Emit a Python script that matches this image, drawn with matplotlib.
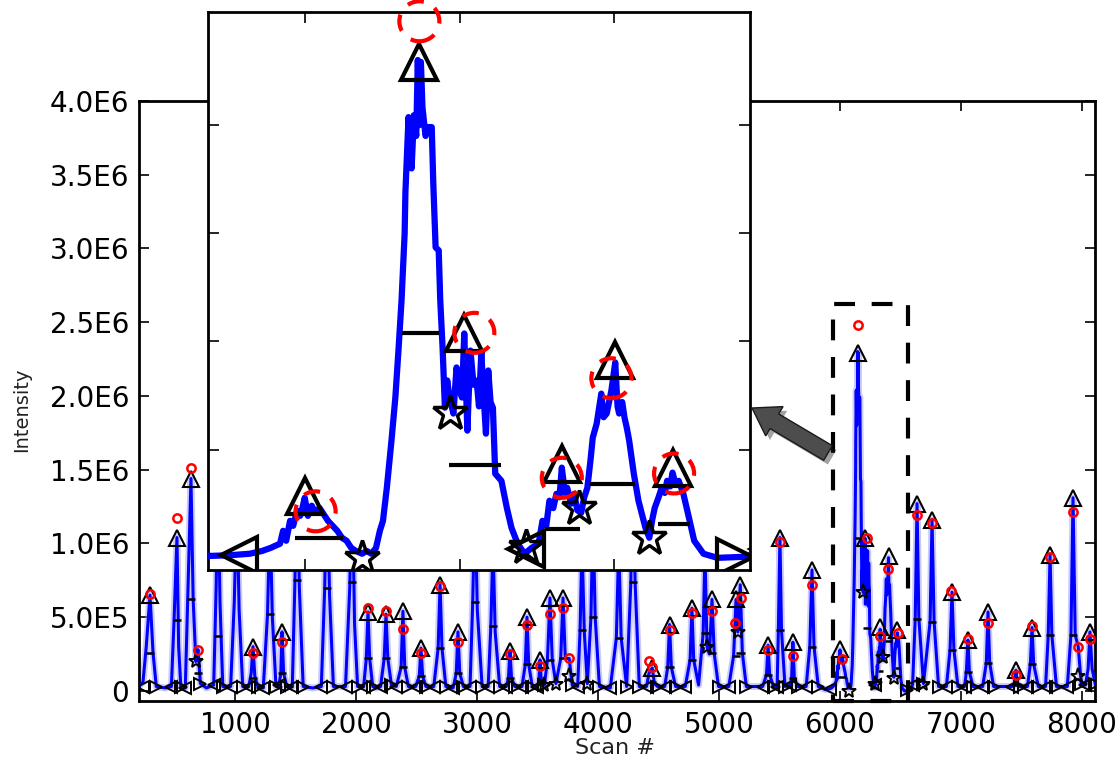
import matplotlib
matplotlib.use("Agg")
import matplotlib.pyplot as plt
import matplotlib.patheffects as pe
from matplotlib.patches import Rectangle, Circle, FancyArrow
from matplotlib.transforms import ScaledTranslation

# intensities below are in units of 1E6 counts

# chromatogram trace (scan #, intensity)
trace_scan = [
    200, 235, 262, 293, 318, 345, 420, 470, 492, 516, 530, 548,
    585, 605, 632, 650, 672, 690, 710, 760, 820, 840, 855, 872, 895,
    960, 990, 1012, 1030, 1060, 1110, 1130, 1145, 1160, 1185,
    1230, 1265, 1285, 1305, 1335, 1360, 1375, 1385, 1398, 1425,
    1470, 1492, 1509, 1528, 1560, 1640, 1710, 1738, 1757, 1778, 1810,
    1910, 1945, 1964, 1985, 2010, 2060, 2082, 2096, 2110, 2135,
    2160, 2200, 2230, 2245, 2260, 2290, 2330, 2370, 2385, 2400, 2430,
    2490, 2520, 2534, 2548, 2575, 2640, 2676, 2692, 2708, 2740,
    2800, 2826, 2840, 2855, 2885, 2940, 2962, 2981, 3000, 3040,
    3090, 3112, 3130, 3148, 3185, 3240, 3258, 3270, 3283, 3310,
    3370, 3397, 3411, 3425, 3455, 3490, 3508, 3519, 3530, 3555,
    3580, 3601, 3620, 3650, 3690, 3709, 3728, 3760, 3785,
    3830, 3850, 3866, 3885, 3910, 3940, 3957, 3975, 4010,
    4100, 4150, 4170, 4190, 4235, 4270, 4288, 4305, 4340,
    4400, 4420, 4447, 4465, 4490, 4550, 4575, 4590, 4605, 4640,
    4720, 4760, 4775, 4790, 4830, 4868, 4883, 4900, 4920, 4941, 4960, 4995,
    5080, 5120, 5140, 5155, 5175, 5192, 5225, 5360, 5392, 5405, 5418, 5450,
    5480, 5490, 5503, 5516, 5545, 5590, 5600, 5610, 5622, 5650,
    5720, 5750, 5768, 5785, 5820,
    5879, 5903, 5929, 5945, 5956, 5962, 5968, 5972, 5976, 5981, 5985, 5990,
    5994, 5997, 6000, 6004, 6009, 6014, 6019, 6024, 6030, 6036, 6042, 6048,
    6054, 6060, 6066, 6074, 6080, 6086, 6092, 6097, 6101, 6106, 6112, 6117,
    6121, 6125, 6129, 6130, 6134, 6138, 6141, 6144, 6146, 6148, 6150, 6152,
    6156, 6160, 6164, 6166, 6169, 6173, 6175, 6178, 6181, 6184, 6187, 6192,
    6196, 6200, 6203, 6206, 6210, 6214, 6218, 6222, 6225, 6228, 6231, 6234,
    6237, 6240, 6243, 6246, 6254, 6261, 6267, 6275, 6284, 6293, 6302, 6307,
    6312, 6316, 6321, 6325, 6329, 6332, 6336, 6339, 6344, 6348, 6352, 6357,
    6361, 6365, 6369, 6372, 6377, 6383, 6386, 6390, 6393, 6396, 6401, 6404,
    6406, 6410, 6413, 6416, 6419, 6425, 6431, 6440, 6445, 6449, 6452, 6457,
    6461, 6465, 6468, 6472, 6475, 6479, 6483, 6489, 6495, 6503, 6515, 6533, 6569,
    6600, 6622, 6637, 6652, 6690, 6745, 6761, 6778, 6815,
    6880, 6910, 6926, 6942, 6975, 7030, 7045, 7058, 7070, 7100,
    7180, 7210, 7224, 7238, 7270, 7420, 7445, 7455, 7466, 7490,
    7550, 7574, 7588, 7602, 7640, 7700, 7722, 7737, 7752, 7790,
    7880, 7910, 7927, 7945, 7970, 7995, 8030, 8052, 8067, 8085, 8110,
]
trace_int = [
    0.03, 0.06, 0.30, 0.65, 0.26, 0.03, 0.02, 0.03, 0.48, 1.04, 0.30, 0.03,
    0.02, 0.62, 1.44, 0.62, 0.20, 0.28, 0.05, 0.02, 0.04, 0.70, 1.45, 0.60, 0.03,
    0.03, 0.60, 1.30, 0.55, 0.03, 0.03, 0.12, 0.30, 0.10, 0.03,
    0.02, 0.52, 1.20, 0.50, 0.03, 0.04, 0.12, 0.40, 0.12, 0.03,
    0.03, 0.75, 1.60, 0.70, 0.03, 0.02, 0.03, 0.70, 1.50, 0.65, 0.03,
    0.03, 0.70, 1.50, 0.45, 0.03, 0.03, 0.22, 0.535, 0.22, 0.03,
    0.02, 0.03, 0.22, 0.52, 0.22, 0.04, 0.03, 0.16, 0.54, 0.16, 0.03,
    0.03, 0.10, 0.29, 0.10, 0.03, 0.03, 0.29, 0.72, 0.29, 0.03,
    0.02, 0.12, 0.40, 0.12, 0.03, 0.03, 0.60, 1.30, 0.55, 0.03,
    0.03, 0.44, 1.00, 0.40, 0.03, 0.03, 0.09, 0.27, 0.09, 0.03,
    0.03, 0.18, 0.50, 0.18, 0.03, 0.03, 0.05, 0.21, 0.05, 0.04,
    0.21, 0.63, 0.21, 0.05, 0.22, 0.63, 0.22, 0.22, 0.04,
    0.03, 0.41, 1.00, 0.40, 0.05, 0.50, 1.20, 0.50, 0.03,
    0.02, 0.36, 1.00, 0.36, 0.03, 0.74, 1.70, 0.74, 0.03,
    0.03, 0.12, 0.155, 0.05, 0.03, 0.03, 0.16, 0.45, 0.16, 0.03,
    0.03, 0.21, 0.56, 0.21, 0.04, 0.39, 0.95, 0.30, 0.25, 0.62, 0.25, 0.03,
    0.03, 0.24, 0.62, 0.40, 0.72, 0.26, 0.03, 0.03, 0.11, 0.31, 0.11, 0.03,
    0.03, 0.41, 1.04, 0.41, 0.03, 0.04, 0.09, 0.33, 0.09, 0.03,
    0.03, 0.30, 0.82, 0.30, 0.03,
    0.009, 0.012, 0.019, 0.032, 0.046, 0.056, 0.065, 0.125, 0.079, 0.171, 0.148, 0.218,
    0.194, 0.231, 0.278, 0.194, 0.241, 0.208, 0.231, 0.204, 0.171, 0.148, 0.125, 0.093,
    0.079, 0.046, 0.032, 0.019, 0.032, 0.019, 0.046, 0.125, 0.171, 0.324, 0.542, 0.741,
    0.958, 1.190, 1.500, 1.690, 2.037, 1.800, 2.046, 1.950, 2.301, 2.000, 2.292, 2.083,
    1.950, 1.991, 1.991, 1.731, 1.435, 1.421, 1.190, 0.972, 0.694, 0.820, 0.741, 0.667,
    0.880, 0.780, 0.741, 1.037, 0.588, 0.958, 0.800, 0.819, 0.700, 0.949, 0.750, 0.574,
    0.866, 0.720, 0.694, 0.389, 0.356, 0.231, 0.139, 0.065, 0.019, 0.046, 0.065, 0.171,
    0.150, 0.264, 0.230, 0.296, 0.280, 0.417, 0.300, 0.324, 0.250, 0.296, 0.220, 0.208,
    0.280, 0.324, 0.450, 0.556, 0.620, 0.759, 0.650, 0.667, 0.720, 0.773, 0.903, 0.700,
    0.667, 0.720, 0.648, 0.600, 0.542, 0.389, 0.264, 0.139, 0.093, 0.180, 0.231, 0.280,
    0.324, 0.300, 0.356, 0.330, 0.394, 0.340, 0.356, 0.296, 0.204, 0.079, 0.019, 0.000, 0.005,
    0.04, 0.49, 1.27, 0.49, 0.05, 0.47, 1.16, 0.47, 0.03,
    0.03, 0.28, 0.67, 0.28, 0.03, 0.03, 0.13, 0.345, 0.13, 0.03,
    0.03, 0.19, 0.535, 0.19, 0.03, 0.03, 0.04, 0.14, 0.04, 0.03,
    0.03, 0.18, 0.43, 0.18, 0.03, 0.03, 0.38, 0.92, 0.38, 0.03,
    0.03, 0.38, 1.31, 0.38, 0.30, 0.05, 0.04, 0.15, 0.40, 0.15, 0.05,
]

# detected apexes (triangles)
apex_scan = [293, 516, 632, 855, 1012, 1145, 1285, 1385, 1509, 1757, 1964,
             2096, 2245, 2385, 2534, 2692, 2840, 2981, 3130, 3270, 3411, 3519,
             3601, 3709, 3866, 3957, 4170, 4288, 4447, 4590, 4775, 4883, 4941,
             5140, 5175, 5405, 5503, 5610, 5768, 6000, 6148, 6206, 6332, 6401,
             6475, 6637, 6761, 6926, 7058, 7224, 7455, 7588, 7737, 7927, 8067]
apex_int = [0.65, 1.04, 1.44, 1.45, 1.30, 0.30, 1.20, 0.40, 1.60, 1.50, 1.50,
            0.535, 0.52, 0.54, 0.29, 0.72, 0.40, 1.30, 1.00, 0.27, 0.50, 0.21,
            0.63, 0.63, 1.00, 1.20, 1.00, 1.70, 0.155, 0.45, 0.56, 0.95, 0.62,
            0.62, 0.72, 0.31, 1.04, 0.33, 0.82, 0.285, 2.29, 1.04, 0.435, 0.915,
            0.415, 1.27, 1.16, 0.67, 0.345, 0.535, 0.14, 0.43, 0.92, 1.31, 0.40]

# fitted peak maxima (red circles)
fit_scan = [293, 516, 632, 690, 1145, 1385, 2096, 2245, 2385, 2534, 2692,
            2840, 3270, 3411, 3519, 3601, 3709, 3760, 4420, 4447, 4590, 4775,
            4941, 5130, 5178, 5405, 5503, 5610, 5768, 6014, 6148, 6219, 6332,
            6396, 6477, 6637, 6761, 6920, 7058, 7220, 7455, 7588, 7737, 7927,
            7970, 8067]
fit_int = [0.66, 1.17, 1.51, 0.28, 0.26, 0.33, 0.56, 0.54, 0.42, 0.26, 0.71,
           0.33, 0.25, 0.45, 0.17, 0.52, 0.56, 0.22, 0.20, 0.16, 0.41, 0.53,
           0.54, 0.46, 0.63, 0.28, 1.01, 0.24, 0.72, 0.215, 2.48, 1.04, 0.37,
           0.83, 0.39, 1.19, 1.14, 0.68, 0.35, 0.46, 0.11, 0.44, 0.91, 1.21,
           0.30, 0.35]

# half-height markers (centre, full width in scans, level)
half_scan = [293, 516, 632, 690, 855, 1145, 1285, 1385, 1509, 1757, 1964,
             2096, 2245, 2385, 2534, 2692, 2840, 2981, 3130, 3270, 3411, 3519,
             3601, 3709, 3866, 3957, 4170, 4288, 4447, 4590, 4775, 4883, 4941,
             5140, 5175, 5405, 5503, 5610, 5768, 6018, 6149, 6220, 6333, 6398,
             6477, 6637, 6761, 6926, 7058, 7224, 7455, 7588, 7737, 7927]
half_width = [70, 70, 70, 60, 70, 60, 70, 60, 70, 70, 70,
              70, 70, 70, 60, 70, 60, 70, 70, 60, 70, 60,
              70, 70, 70, 70, 70, 70, 60, 70, 70, 70, 70,
              70, 70, 60, 70, 60, 70, 62, 48, 67, 45, 58,
              41, 70, 70, 70, 60, 70, 60, 70, 70, 70]
half_int = [0.26, 0.48, 0.62, 0.12, 0.37, 0.09, 0.52, 0.12, 0.75, 0.70, 0.74,
            0.22, 0.22, 0.16, 0.10, 0.29, 0.12, 0.60, 0.44, 0.09, 0.18, 0.05,
            0.21, 0.22, 0.41, 0.50, 0.36, 0.74, 0.06, 0.16, 0.21, 0.39, 0.26,
            0.24, 0.26, 0.11, 0.41, 0.09, 0.30, 0.093, 1.04, 0.43, 0.134, 0.34,
            0.157, 0.49, 0.47, 0.28, 0.13, 0.19, 0.04, 0.18, 0.38, 0.38]

# peak boundaries
start_scan = [235, 470, 585, 820, 960, 1110, 1230, 1360, 1470, 1710, 1910,
              2060, 2200, 2330, 2490, 2640, 2800, 2940, 3090, 3240, 3370, 3490,
              3830, 4100, 4400, 4550, 4720, 5080, 5360, 5480, 5590, 5720, 5915,
              6286, 6600, 6880, 7030, 7180, 7420, 7550, 7700, 7880, 8030]
start_int = [0.03, 0.03, 0.02, 0.04, 0.03, 0.03, 0.02, 0.04, 0.03, 0.03, 0.03,
             0.03, 0.03, 0.03, 0.03, 0.03, 0.02, 0.03, 0.03, 0.03, 0.03, 0.03,
             0.03, 0.02, 0.03, 0.03, 0.03, 0.03, 0.03, 0.03, 0.04, 0.03, 0.015,
             0.04, 0.04, 0.03, 0.03, 0.03, 0.03, 0.03, 0.03, 0.03, 0.04]
end_scan = [345, 548, 710, 895, 1060, 1185, 1335, 1425, 1560, 1810, 2010,
            2135, 2290, 2430, 2575, 2740, 2885, 3040, 3185, 3310, 3455, 3555,
            3785, 4010, 4235, 4340, 4490, 4640, 4995, 5225, 5450, 5545, 5650,
            5820, 6556, 6690, 6815, 6975, 7100, 7270, 7490, 7640, 7790, 7995, 8105]
end_int = [0.03, 0.03, 0.05, 0.03, 0.03, 0.03, 0.03, 0.03, 0.03, 0.03, 0.03,
           0.03, 0.04, 0.03, 0.03, 0.03, 0.03, 0.03, 0.03, 0.03, 0.03, 0.04,
           0.04, 0.03, 0.03, 0.03, 0.03, 0.03, 0.03, 0.03, 0.03, 0.03, 0.03,
           0.03, 0.005, 0.05, 0.03, 0.03, 0.03, 0.03, 0.03, 0.03, 0.03, 0.05, 0.05]
split_scan = [672, 3555, 3650, 3760, 3910, 4900, 5155, 6074, 6187, 6286, 6354,
              6445, 6690, 7970]
split_int = [0.20, 0.04, 0.05, 0.10, 0.05, 0.30, 0.40, 0.0, 0.67, 0.05, 0.23,
             0.09, 0.05, 0.10]

xtick_vals = [1000, 2000, 3000, 4000, 5000, 6000, 7000, 8000]
ytick_vals = [0, 0.5, 1.0, 1.5, 2.0, 2.5, 3.0, 3.5, 4.0]
ytick_labels = ["0", "5.0E5", "1.0E6", "1.5E6", "2.0E6", "2.5E6", "3.0E6", "3.5E6", "4.0E6"]

# zoomed window
zoom_x = (5940, 6565)
zoom_top = 2.62
inset_xlim = (5875, 6575)
inset_ylim = (-0.056, 2.523)

fig = plt.figure(figsize=(11.2, 7.63), dpi=100)
ax = fig.add_axes([0.1241, 0.0813, 0.8536, 0.7864])

ax.plot(trace_scan, trace_int, color="#8c8cff", lw=5, alpha=0.45, zorder=2)
ax.plot(trace_scan, trace_int, color="#0000ff", lw=2.2, zorder=3)
ax.plot(apex_scan, apex_int, "^", ms=11, mfc="none", mec="black", mew=1.5, zorder=5)
ax.plot(fit_scan, fit_int, "o", ms=6, mfc="none", mec="red", mew=1.8, zorder=6)
ax.hlines(half_int, [s - w / 2 for s, w in zip(half_scan, half_width)],
          [s + w / 2 for s, w in zip(half_scan, half_width)], color="black", lw=1.8, zorder=5)
ax.plot(start_scan, start_int, "<", ms=8, mfc="none", mec="black", mew=1.4, zorder=4)
ax.plot(end_scan, end_int, ">", ms=8, mfc="none", mec="black", mew=1.4, zorder=4)
ax.plot(split_scan, split_int, "*", ms=11, mfc="none", mec="black", mew=1.4, zorder=4)

ax.add_patch(Rectangle((zoom_x[0], -0.068), zoom_x[1] - zoom_x[0], zoom_top + 0.068,
                       fill=False, ls=(0, (5, 4)), lw=3, ec="black", zorder=7, clip_on=False))

ax.set_xlim(202, 8109)
ax.set_ylim(-0.068, 4.0)
ax.set_xticks(xtick_vals)
ax.set_yticks(ytick_vals)
ax.set_yticklabels(ytick_labels)
ax.tick_params(direction="in", length=7, width=1.2, top=True, right=True,
               labelsize=20, pad=7)
for sp in ax.spines.values():
    sp.set_linewidth(2)

fig.text(615 / 1120, 1 - 748 / 763, "Scan #", ha="center", va="center",
         fontsize=16, color="#222222")
fig.text(22 / 1120, 1 - 410 / 763, "Intensity", ha="center", va="center",
         rotation=90, fontsize=14, color="#222222")

# inset: close-up of the boxed region
axin = fig.add_axes([0.1857, 0.2530, 0.4839, 0.7313], zorder=10)
axin.set_facecolor("white")
axin.plot(trace_scan, trace_int, color="#0000ff", lw=4.5, zorder=3)
axin.plot(apex_scan, apex_int, "^", ms=26, mfc="none", mec="black", mew=3, zorder=5)
axin.hlines(half_int, [s - w / 2 for s, w in zip(half_scan, half_width)],
            [s + w / 2 for s, w in zip(half_scan, half_width)], color="black", lw=3, zorder=5)
axin.plot(start_scan, start_int, "<", ms=26, mfc="none", mec="black", mew=3, zorder=4)
axin.plot(end_scan, end_int, ">", ms=26, mfc="none", mec="black", mew=3, zorder=4)
axin.plot(split_scan, split_int, "*", ms=26, mfc="none", mec="black", mew=2.5, zorder=4)
for s, v in zip(fit_scan, fit_int):
    if inset_xlim[0] < s < inset_xlim[1]:
        ring = Circle((0, 0), 0.2, fill=False, ec="red", lw=3, ls=(0, (4, 3)),
                      transform=fig.dpi_scale_trans + ScaledTranslation(s, v, axin.transData),
                      zorder=6, clip_on=False)
        axin.add_artist(ring)
axin.set_xlim(*inset_xlim)
axin.set_ylim(*inset_ylim)
axin.set_xticks([6000, 6200, 6400])
axin.set_yticks([0.5, 1.0, 1.5, 2.0])
axin.tick_params(direction="in", length=8, width=1.2, top=True, right=True,
                 labelbottom=False, labelleft=False)
for sp in axin.spines.values():
    sp.set_linewidth(2)

# pointer from the box to the inset
arrow = FancyArrow(8.28, 3.10, -0.76, 0.45, width=0.17, head_width=0.34,
                   head_length=0.26, length_includes_head=True,
                   transform=fig.dpi_scale_trans, fc="#4d4d4d", ec="#1a1a1a", lw=1,
                   path_effects=[pe.SimplePatchShadow(offset=(3, -3), alpha=0.4), pe.Normal()])
fig.add_artist(arrow)

fig.savefig("out.png", dpi=100)
